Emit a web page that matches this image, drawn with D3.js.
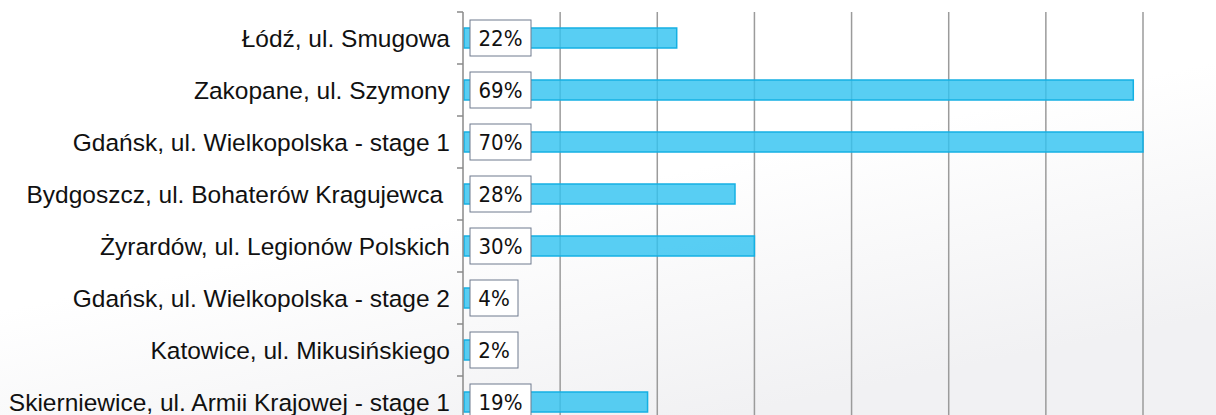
<!DOCTYPE html>
<html>
<head>
<meta charset="utf-8">
<script src="https://cdn.jsdelivr.net/npm/d3@7"></script>
<style>
  body { margin: 0; background: #fff; overflow: hidden; }
</style>
</head>
<body>
<script>
var categories = [
  "Łódź, ul. Smugowa",
  "Zakopane, ul. Szymony",
  "Gdańsk, ul. Wielkopolska - stage 1",
  "Bydgoszcz, ul. Bohaterów Kragujewca ",
  "Żyrardów, ul. Legionów Polskich",
  "Gdańsk, ul. Wielkopolska - stage 2",
  "Katowice, ul. Mikusińskiego",
  "Skierniewice, ul. Armii Krajowej - stage 1"
]
var values = [22, 69, 70, 28, 30, 4, 2, 19]
var gridTicks = [10, 20, 30, 40, 50, 60, 70]

var W = 1216, H = 415
var margin = {left: 463, right: 73, top: 12}

var svg = d3.select('body').append('svg').attr('width', W).attr('height', H)

// faint background shading
var grad = svg.append('defs').append('linearGradient').attr('id', 'bg')
  .attr('x1', '0%').attr('y1', '0%').attr('x2', '60%').attr('y2', '100%')
grad.append('stop').attr('offset', '55%').attr('stop-color', '#ffffff')
grad.append('stop').attr('offset', '100%').attr('stop-color', '#f1f1f3')
svg.append('rect').attr('width', W).attr('height', H).attr('fill', 'url(#bg)')

var x = d3.scaleLinear().domain([0, 70]).range([margin.left, W - margin.right])
var y = d3.scaleBand().domain(categories).range([margin.top, margin.top + 52 * categories.length])

// gridlines
svg.selectAll('line.grid').data(gridTicks).join('line')
  .attr('class', 'grid')
  .attr('x1', d => x(d)).attr('x2', d => x(d))
  .attr('y1', margin.top).attr('y2', H)
  .attr('stroke', '#9b9b9b').attr('stroke-width', 1.5)

// bars
svg.selectAll('rect.bar').data(values).join('rect')
  .attr('class', 'bar')
  .attr('x', x(0) + 1)
  .attr('y', (d, i) => y(categories[i]) + y.bandwidth() / 2 - 10)
  .attr('width', d => x(d) - x(0) - 1)
  .attr('height', 20)
  .attr('fill', '#33c3f0').attr('fill-opacity', 0.82)
  .attr('stroke', '#14b0e3').attr('stroke-width', 1.5)

// axis
var yAxis = d3.axisLeft(y).tickSize(6).tickFormat('')
var ax = svg.append('g').attr('transform', 'translate(' + x(0) + ',0)').call(yAxis)
ax.select('.domain').remove()
ax.selectAll('.tick line').attr('stroke', '#8a8a8a').attr('stroke-width', 1.5)
  .attr('transform', 'translate(0,' + (-y.bandwidth() / 2) + ')')
svg.append('line')
  .attr('x1', x(0)).attr('x2', x(0))
  .attr('y1', margin.top).attr('y2', H)
  .attr('stroke', '#8a8a8a').attr('stroke-width', 1.5)

// category labels
svg.selectAll('text.cat').data(categories).join('text')
  .attr('class', 'cat')
  .attr('x', 450)
  .attr('y', d => y(d) + y.bandwidth() / 2)
  .attr('dy', '0.35em')
  .attr('text-anchor', 'end')
  .style('white-space', 'pre')
  .attr('font-family', 'Liberation Sans, Arial, sans-serif')
  .attr('font-size', 24.5)
  .attr('fill', '#111')
  .text(d => d)

// value boxes
var boxes = svg.selectAll('g.val').data(values).join('g')
  .attr('class', 'val')
  .attr('transform', (d, i) => 'translate(470,' + (y(categories[i]) + y.bandwidth() / 2) + ')')
boxes.append('rect')
  .attr('x', 0).attr('y', -18)
  .attr('width', d => d >= 10 ? 61 : 48)
  .attr('height', 36)
  .attr('fill', '#fff')
  .attr('stroke', '#6f7a8e').attr('stroke-width', 1)
boxes.append('text')
  .attr('x', d => (d >= 10 ? 61 : 48) / 2)
  .attr('dy', '0.36em')
  .attr('text-anchor', 'middle')
  .attr('font-family', 'DejaVu Sans Condensed, DejaVu Sans, sans-serif')
  .attr('font-size', 22)
  .attr('fill', '#111')
  .text(d => d + '%')
</script>
</body>
</html>
